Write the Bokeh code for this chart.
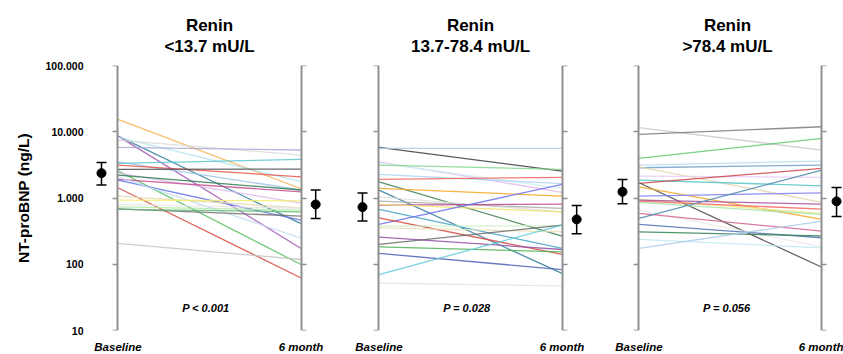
from bokeh.plotting import figure
from bokeh.models import (Range1d, LogAxis, FixedTicker, ColumnDataSource,
                          Whisker, TeeHead, Label, Title)
from bokeh.layouts import row
from bokeh.embed import file_html
from bokeh.resources import INLINE

# ---------------- data ----------------
timepoints = ["Baseline", "6 month"]
panel_header = "Renin"
panel_titles = ["<13.7 mU/L", "13.7-78.4 mU/L", ">78.4 mU/L"]
p_values = ["P < 0.001", "P = 0.028", "P = 0.056"]
y_label = "NT-proBNP (ng/L)"
y_ticks = [10, 100, 1000, 10000, 100000]
y_tick_labels = ["10", "100", "1.000", "10.000", "100.000"]

low_baseline = [15400, 8600, 8600, 8300, 7500, 5800, 3520, 3330, 3140, 2700, 2570, 2380,
                2220, 1910, 1865, 2090, 1430, 1070, 930, 800, 736, 687, 673, 206]
low_6month = [1380, 410, 173, 1760, 4450, 5300, 1320, 3830, 2090, 2730, 99, 840,
              1320, 1240, 464, 248, 62, 711, 908, 700, 656, 533, 619, 118]
low_colors = ["#f7b04d", "#2f7f99", "#a259b5", "#b9e6ee", "#d9d9d9", "#a8a8d8", "#9cc3e6",
              "#5cc8cf", "#e8524a", "#4d4d4d", "#57c264", "#dcb8f0", "#2f7a4f", "#c8508e",
              "#6272ea", "#c2dcf3", "#d24a40", "#e3d8b4", "#f3ec6a", "#e5e5e5", "#b1e8a8",
              "#6e6e6e", "#5dba6e", "#c4c4c4"]

mid_baseline = [5810, 5610, 3520, 3400, 3140, 2270, 1910, 1757, 1396, 1316, 1042, 898, 781,
                800, 673, 399, 502, 376, 355, 257, 199, 183, 146, 70, 52]
mid_6month = [2550, 5610, 1220, 1400, 2700, 1650, 2050, 266, 1069, 73, 619, 697, 809,
              619, 173, 1605, 141, 380, 309, 167, 390, 154, 83, 390, 47]
mid_colors = ["#3d3d3d", "#a7cdea", "#e3b9ee", "#cdeef5", "#82d68c", "#aed3f0", "#f0655f",
              "#3f7d52", "#f5a623", "#2f7d9c", "#dedede", "#ababab", "#b9458f", "#efe26a",
              "#3fa2c2", "#7070f0", "#d2483f", "#cdf0c5", "#e8dfb5", "#9150a1", "#6a6a6a",
              "#50b257", "#4d60b3", "#62cbd9", "#e3e3e3"]

high_baseline = [11500, 9130, 3960, 3140, 2860, 2960, 2140, 1865, 1662, 1697, 1476, 1069,
                 953, 929, 898, 858, 656, 585, 492, 399, 309, 237, 173]
high_6month = [5290, 11900, 7950, 3610, 3140, 858, 2050, 1528, 2800, 90, 475, 1198,
               585, 809, 679, 565, 183, 316, 2640, 251, 268, 177, 448]
high_colors = ["#c9c9c9", "#7a7a7a", "#62c56e", "#b8daf1", "#6d9fc9", "#e2d6aa", "#e8cbf6",
               "#52c6c6", "#c94444", "#474747", "#f5a623", "#7d7df5", "#f0e68c", "#a34d9d",
               "#f26464", "#a6e2a6", "#e9e9e9", "#d46394", "#4b88aa", "#4e6fb3", "#318252",
               "#bde9ed", "#abcbe9"]

# mean with error bars (baseline, 6 month) per panel
mean_baseline = [2370, 729, 1241]
mean_baseline_lo = [1565, 448, 817]
mean_baseline_hi = [3440, 1186, 1910]
mean_6month = [800, 475, 889]
mean_6month_lo = [492, 288, 527]
mean_6month_hi = [1316, 773, 1445]

# ---------------- styling ----------------
FONT = "Liberation Sans"
AXIS_GRAY = "#8f8f8f"
PX_PER_UNIT = 183
X_START = -0.15
MEAN_OFFSET_BASE = -0.09
MEAN_OFFSET_END = 0.08
x_index = {t: i for i, t in enumerate(timepoints)}


def build_panel(k, baseline, month6, colors, first, x_end, border_left, border_right):
    frame_w = round((x_end - X_START) * PX_PER_UNIT)
    p = figure(frame_width=frame_w, frame_height=265,
               x_range=Range1d(X_START, x_end), y_range=Range1d(y_ticks[0], y_ticks[-1]),
               y_axis_type="log", output_backend="svg", toolbar_location=None,
               min_border_left=border_left, min_border_right=border_right,
               min_border_top=65, min_border_bottom=23)
    p.outline_line_color = None
    p.xgrid.visible = False
    p.ygrid.visible = False
    p.background_fill_color = "white"
    p.border_fill_color = "white"

    # titles: spacer nearest the frame, then second line, then first line
    p.add_layout(Title(text=" ", text_font_size="1px", standoff=7), "above")
    p.add_layout(Title(text=panel_titles[k], align="center", text_font=FONT,
                       text_font_size="17px", text_font_style="bold", text_color="black",
                       standoff=0), "above")
    p.add_layout(Title(text=panel_header, align="center", text_font=FONT,
                       text_font_size="17px", text_font_style="bold", text_color="black",
                       standoff=0), "above")

    # default left axis: labels only for first panel
    lab = p.yaxis[0]
    if first:
        lab.ticker = FixedTicker(ticks=y_ticks)
        lab.major_label_overrides = dict(zip(y_ticks, y_tick_labels))
        lab.axis_line_color = None
        lab.major_tick_line_color = None
        lab.minor_tick_line_color = None
        lab.major_tick_out = 0
        lab.major_tick_in = 0
        lab.major_label_standoff = 7
        lab.major_label_text_font = FONT
        lab.major_label_text_font_size = "10.5px"
        lab.major_label_text_font_style = "bold"
        lab.major_label_text_color = "black"
        lab.axis_label = y_label
        lab.axis_label_text_font = FONT
        lab.axis_label_text_font_size = "15.5px"
        lab.axis_label_text_font_style = "bold"
        lab.axis_label_text_color = "black"
        lab.axis_label_standoff = 11
    else:
        lab.visible = False

    # vertical axis lines at the two time points
    for side, tp in (("left", timepoints[0]), ("right", timepoints[1])):
        ax = LogAxis(ticker=FixedTicker(ticks=y_ticks), fixed_location=x_index[tp],
                     axis_line_color=AXIS_GRAY, axis_line_width=2,
                     major_tick_line_color=AXIS_GRAY, major_tick_line_width=1.5,
                     major_tick_out=5, major_tick_in=0, minor_tick_line_color=None,
                     major_label_text_color=None, major_label_text_font_size="1px")
        p.add_layout(ax, side)

    # x axis
    xa = p.xaxis[0]
    xa.ticker = FixedTicker(ticks=list(x_index.values()))
    xa.major_label_overrides = {i: t for t, i in x_index.items()}
    xa.axis_line_color = None
    xa.major_tick_line_color = None
    xa.minor_tick_line_color = None
    xa.major_tick_out = 0
    xa.major_tick_in = 0
    xa.major_label_standoff = 10
    xa.major_label_text_font = FONT
    xa.major_label_text_font_size = "11.5px"
    xa.major_label_text_font_style = "bold italic"
    xa.major_label_text_color = "black"

    # individual patient lines
    x0 = x_index[timepoints[0]]
    x1 = x_index[timepoints[1]]
    src = ColumnDataSource(dict(x0=[x0] * len(baseline), x1=[x1] * len(baseline),
                                y0=baseline, y1=month6, c=colors))
    p.segment(x0="x0", y0="y0", x1="x1", y1="y1", source=src, line_color="c",
              line_width=1.3, line_alpha=0.85)

    # mean +/- error
    msrc = ColumnDataSource(dict(
        x=[x0 + MEAN_OFFSET_BASE, x1 + MEAN_OFFSET_END],
        m=[mean_baseline[k], mean_6month[k]],
        lo=[mean_baseline_lo[k], mean_6month_lo[k]],
        hi=[mean_baseline_hi[k], mean_6month_hi[k]]))
    p.add_layout(Whisker(source=msrc, base="x", lower="lo", upper="hi", dimension="height",
                         line_color="black", line_width=1.5,
                         upper_head=TeeHead(size=10, line_color="black", line_width=1.5),
                         lower_head=TeeHead(size=10, line_color="black", line_width=1.5)))
    p.scatter(x="x", y="m", source=msrc, marker="circle", size=9, color="black")

    p.add_layout(Label(x=0.48, y=22, text=p_values[k], text_align="center",
                       text_baseline="middle", text_font=FONT, text_font_size="11px",
                       text_font_style="bold italic", text_color="black"))
    return p


p1 = build_panel(0, low_baseline, low_6month, low_colors, True, 1.15, 90, 11)
p2 = build_panel(1, mid_baseline, mid_6month, mid_colors, False, 1.15, 12, 11)
p3 = build_panel(2, high_baseline, high_6month, high_colors, False, 1.118, 11, 0)

layout = row(p1, p2, p3)
open("out.html", "w").write(file_html(layout, INLINE))
